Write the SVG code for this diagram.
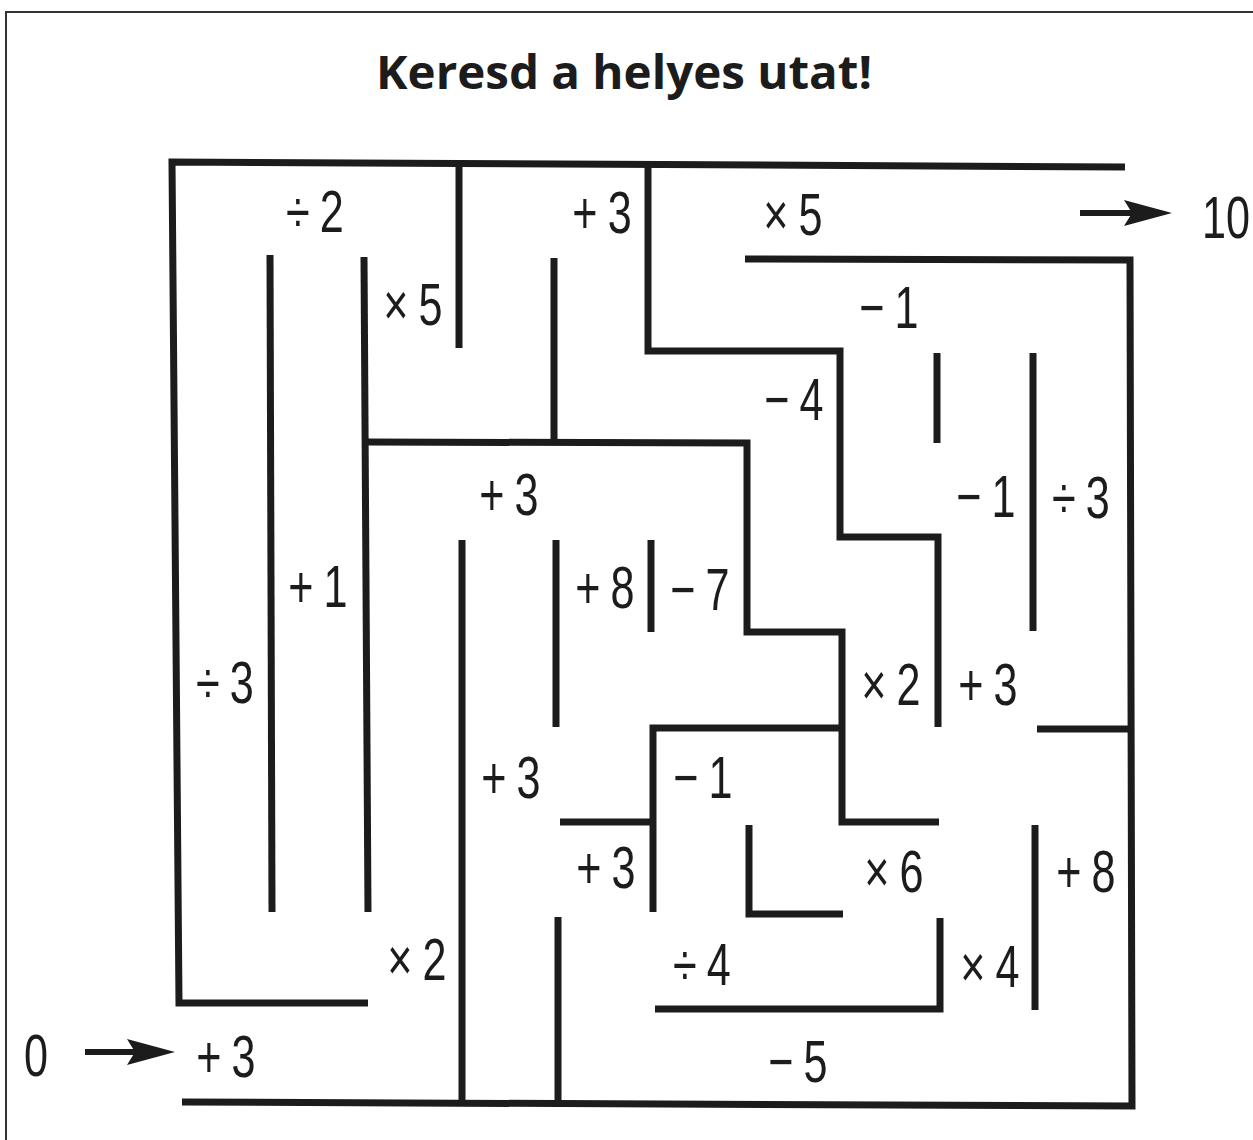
<svg xmlns="http://www.w3.org/2000/svg" width="1253" height="1140" viewBox="0 0 1253 1140">
<style>
.wall{fill:none;stroke:#1c1c1c;stroke-width:7;stroke-linejoin:miter;stroke-linecap:butt}
.frame{fill:none;stroke:#333;stroke-width:2}
.lbl{font-family:"Liberation Sans",Arial,sans-serif;font-size:60px;fill:#1c1c1c;text-anchor:middle;letter-spacing:14px}
.num{letter-spacing:0}
.title{font-family:"Open Sans","Noto Sans",sans-serif;font-weight:700;font-size:46px;fill:#1c1c1c;text-anchor:middle}
.shaft{fill:none;stroke:#1c1c1c;stroke-width:6}
</style>
<defs>
<marker id="head" markerUnits="userSpaceOnUse" markerWidth="50" markerHeight="28" refX="13" refY="13" orient="auto" overflow="visible">
<path d="M0,0 L48,13 L0,26 L8,13 Z" fill="#1c1c1c"/>
</marker>
</defs>
<rect width="1253" height="1140" fill="#fff"/>
<path class="frame" d="M6,1140 V12 H1253"/>
<text class="title" x="624" y="89" textLength="496" lengthAdjust="spacingAndGlyphs">Keresd a helyes utat!</text>
<g id="walls">
<path class="wall" d="M1125,167 L172,162 L179,1003 L368,1003"/>
<path class="wall" d="M459,162 V348"/>
<path class="wall" d="M648,165 V351 H840 V537 H938 V727"/>
<path class="wall" d="M745,259 L1130,260 L1132,1106 L182,1102"/>
<path class="wall" d="M937,353 V443"/>
<path class="wall" d="M1033,353 V631"/>
<path class="wall" d="M1037,729 H1130"/>
<path class="wall" d="M270,255 L272,912"/>
<path class="wall" d="M364,257 L368,912"/>
<path class="wall" d="M366,442 L747,443 V632 H842 V822 H939"/>
<path class="wall" d="M554,258 V442"/>
<path class="wall" d="M462,540 V1102"/>
<path class="wall" d="M556,540 V727"/>
<path class="wall" d="M651,540 V632"/>
<path class="wall" d="M653,912 V728 H842"/>
<path class="wall" d="M560,822 H653"/>
<path class="wall" d="M558,917 V1102"/>
<path class="wall" d="M749,825 V914 H843"/>
<path class="wall" d="M655,1009 H940 V918"/>
<path class="wall" d="M1035,825 V1010"/>
</g>
<g id="arrows">
<path class="shaft" d="M85,1052 H140" marker-end="url(#head)"/>
<path class="shaft" d="M1080,213 H1137" marker-end="url(#head)"/>
</g>
<g id="labels" transform="scale(0.72 1)">
<text class="lbl" x="444.4" y="232">÷2</text>
<text class="lbl" x="843.1" y="233">+3</text>
<text class="lbl" x="1108.3" y="235">×5</text>
<text class="lbl" x="580.6" y="325">×5</text>
<text class="lbl" x="1241.7" y="328">−1</text>
<text class="lbl" x="1109.7" y="420">−4</text>
<text class="lbl" x="713.9" y="515">+3</text>
<text class="lbl" x="1376.4" y="517">−1</text>
<text class="lbl" x="1508.3" y="518">÷3</text>
<text class="lbl" x="448.6" y="607">+1</text>
<text class="lbl" x="847.2" y="608">+8</text>
<text class="lbl" x="979.2" y="610">−7</text>
<text class="lbl" x="319.4" y="703">÷3</text>
<text class="lbl" x="1244.4" y="705">×2</text>
<text class="lbl" x="1379.2" y="705">+3</text>
<text class="lbl" x="716.7" y="798">+3</text>
<text class="lbl" x="983.3" y="798">−1</text>
<text class="lbl" x="848.6" y="888">+3</text>
<text class="lbl" x="1248.6" y="892">×6</text>
<text class="lbl" x="1515.3" y="892">+8</text>
<text class="lbl" x="586.1" y="980">×2</text>
<text class="lbl" x="981.9" y="985">÷4</text>
<text class="lbl" x="1381.9" y="987">×4</text>
<text class="lbl" x="320.8" y="1077">+3</text>
<text class="lbl" x="1115.3" y="1082">−5</text>
<text class="lbl num" x="50" y="1076">0</text>
<text class="lbl num" x="1702.8" y="238">10</text>
</g>
</svg>
